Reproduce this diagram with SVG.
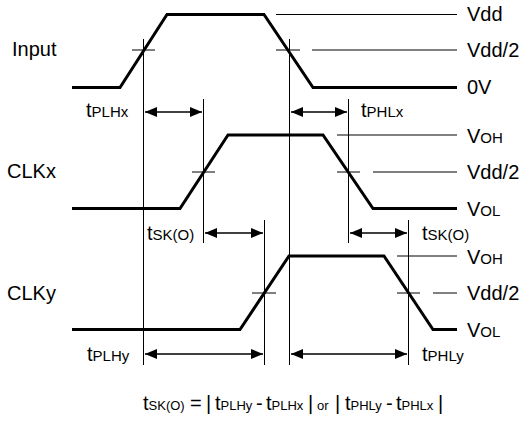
<svg xmlns="http://www.w3.org/2000/svg" width="527" height="436" viewBox="0 0 527 436">
<style>
text{font-family:"Liberation Sans",Arial,sans-serif;fill:#000}
.big{font-size:20px}
.sub{font-size:15px}
.fs{font-size:13px}
.wave{fill:none;stroke:#000;stroke-width:3;stroke-linejoin:miter}
.thin{fill:none;stroke:#000;stroke-width:1}
.arr{fill:none;stroke:#000;stroke-width:1.5;marker-start:url(#ah);marker-end:url(#ah)}
</style>
<defs>
<marker id="ah" markerUnits="userSpaceOnUse" markerWidth="14" markerHeight="12" refX="12" refY="6" orient="auto-start-reverse">
<path d="M0,1 L12,6 L0,11 Z" fill="#000"/>
</marker>
</defs>
<rect width="527" height="436" fill="#fff"/>
<g id="input">
<polyline class="wave" points="72,87.5 120,87.5 167,14.5 264,14.5 313,87.5 457,87.5"/>
<text class="big" x="12" y="56">Input</text>
</g>
<g id="clkx">
<polyline class="wave" points="72,208.5 180,208.5 228,135 323,135 373,208.5 457,208.5"/>
<text class="big" x="7" y="178">CLKx</text>
</g>
<g id="clky">
<polyline class="wave" points="72,329.5 240,329.5 289,256 384,256 433,329.5 457,329.5"/>
<text class="big" x="7" y="300">CLKy</text>
</g>
<g id="levels">
<path class="thin" d="M276,14.5H457 M132,50H155 M276,50H300 M312,50H457 M337,135H457 M192,172H215 M337,172H360 M373,172H457 M397,256H457 M252,293H276 M397,293H420 M433,293H457"/>
<text x="467" y="21"><tspan class="big">Vdd</tspan></text>
<text x="467" y="57"><tspan class="big">Vdd/2</tspan></text>
<text x="467" y="94"><tspan class="big">0V</tspan></text>
<text x="467" y="143"><tspan class="big">V</tspan><tspan class="sub">OH</tspan></text>
<text x="467" y="179"><tspan class="big">Vdd/2</tspan></text>
<text x="467" y="216"><tspan class="big">V</tspan><tspan class="sub">OL</tspan></text>
<text x="467" y="264"><tspan class="big">V</tspan><tspan class="sub">OH</tspan></text>
<text x="467" y="300"><tspan class="big">Vdd/2</tspan></text>
<text x="467" y="337"><tspan class="big">V</tspan><tspan class="sub">OL</tspan></text>
</g>
<g id="connectors">
<path class="thin" d="M143.5,39V365 M289.5,39V365 M203.5,99V243 M348.5,99V243 M264.5,220V365 M408.5,220V365"/>
<line class="arr" x1="145" y1="112" x2="202" y2="112"/>
<line class="arr" x1="291" y1="112" x2="347" y2="112"/>
<line class="arr" x1="205" y1="233" x2="263" y2="233"/>
<line class="arr" x1="350" y1="233" x2="407" y2="233"/>
<line class="arr" x1="145" y1="354" x2="263" y2="354"/>
<line class="arr" x1="291" y1="354" x2="407" y2="354"/>
</g>
<g id="timing-labels">
<text x="86" y="117"><tspan class="big">t</tspan><tspan class="sub">PLHx</tspan></text>
<text x="361" y="117"><tspan class="big">t</tspan><tspan class="sub">PHLx</tspan></text>
<text x="147" y="240"><tspan class="big">t</tspan><tspan class="sub">SK(O)</tspan></text>
<text x="422" y="240"><tspan class="big">t</tspan><tspan class="sub">SK(O)</tspan></text>
<text x="87" y="361"><tspan class="big">t</tspan><tspan class="sub">PLHy</tspan></text>
<text x="422" y="361"><tspan class="big">t</tspan><tspan class="sub">PHLy</tspan></text>
</g>
<g id="formula">
<text y="410"><tspan class="big" x="143">t</tspan><tspan class="fs">SK(O)</tspan><tspan class="big" x="190">=</tspan><tspan class="big" x="206">|</tspan><tspan class="big" x="215">t</tspan><tspan class="fs">PLHy</tspan><tspan class="big" x="256">-</tspan><tspan class="big" x="266">t</tspan><tspan class="fs">PLHx</tspan><tspan class="big" x="308">|</tspan><tspan class="fs" x="317">or</tspan><tspan class="big" x="335">|</tspan><tspan class="big" x="345">t</tspan><tspan class="fs">PHLy</tspan><tspan class="big" x="386">-</tspan><tspan class="big" x="396">t</tspan><tspan class="fs">PHLx</tspan><tspan class="big" x="438">|</tspan></text>
</g>
</svg>
